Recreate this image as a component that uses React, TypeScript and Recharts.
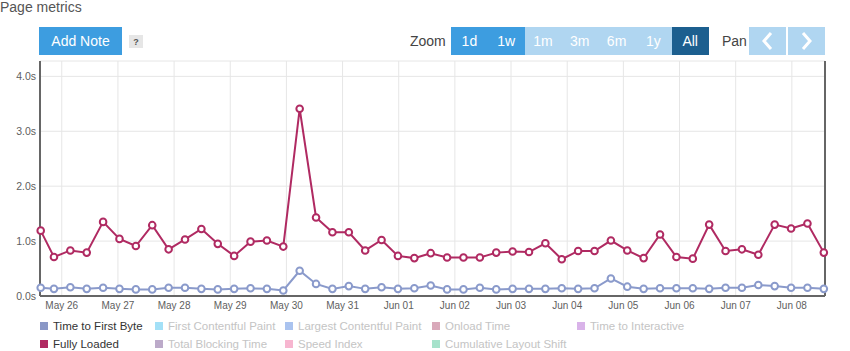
import { LineChart, Line, XAxis, YAxis, CartesianGrid } from "recharts";

// sample times (UTC, month-day hour:minute) and values in seconds
const times = [
  "05-25 15:00", "05-25 20:40", "05-26 03:40", "05-26 10:40", "05-26 17:40",
  "05-27 00:40", "05-27 07:40", "05-27 14:40", "05-27 21:40", "05-28 04:40",
  "05-28 11:40", "05-28 18:40", "05-29 01:40", "05-29 08:40", "05-29 15:40",
  "05-29 22:40", "05-30 05:40", "05-30 12:40", "05-30 19:40", "05-31 02:40",
  "05-31 09:40", "05-31 16:40", "05-31 23:40", "06-01 06:40", "06-01 13:40",
  "06-01 20:40", "06-02 03:40", "06-02 10:40", "06-02 17:40", "06-03 00:40",
  "06-03 07:40", "06-03 14:40", "06-03 21:40", "06-04 04:40", "06-04 11:40",
  "06-04 18:40", "06-05 01:40", "06-05 08:40", "06-05 15:40", "06-05 22:40",
  "06-06 05:40", "06-06 12:40", "06-06 19:40", "06-07 02:40", "06-07 09:40",
  "06-07 16:40", "06-07 23:40", "06-08 06:40", "06-08 13:40",
];
const fullyLoaded = [
  1.19, 0.71, 0.83, 0.79, 1.35, 1.04, 0.91, 1.29, 0.85, 1.03,
  1.22, 0.95, 0.73, 0.99, 1.01, 0.9, 3.41, 1.43, 1.16, 1.16,
  0.83, 1.02, 0.73, 0.69, 0.78, 0.7, 0.7, 0.7, 0.79, 0.81,
  0.8, 0.96, 0.67, 0.82, 0.82, 1.01, 0.83, 0.69, 1.12, 0.71,
  0.68, 1.3, 0.82, 0.85, 0.75, 1.3, 1.23, 1.32, 0.79,
];
const timeToFirstByte = [
  0.15, 0.13, 0.16, 0.13, 0.15, 0.13, 0.12, 0.12, 0.15, 0.15,
  0.13, 0.12, 0.13, 0.14, 0.13, 0.1, 0.46, 0.22, 0.13, 0.18,
  0.13, 0.16, 0.13, 0.14, 0.19, 0.12, 0.12, 0.15, 0.12, 0.13,
  0.13, 0.13, 0.14, 0.13, 0.14, 0.32, 0.17, 0.13, 0.14, 0.14,
  0.14, 0.13, 0.15, 0.15, 0.2, 0.18, 0.15, 0.15, 0.13,
];
const dayTicks = [
  "05-26", "05-27", "05-28", "05-29", "05-30", "05-31", "06-01",
  "06-02", "06-03", "06-04", "06-05", "06-06", "06-07", "06-08",
];
const leftTicks = [0, 1, 2, 3, 4];
const rightTicks = [0, 0.2, 0.4, 0.6, 0.8, 1.0];
const zoomButtons = ["1d", "1w", "1m", "3m", "6m", "1y", "All"];
const zoomStates = ["on", "on", "off", "off", "off", "off", "active"];
const legendRows = [
  [
    { name: "Time to First Byte", color: "#8a97c6", on: true },
    { name: "First Contentful Paint", color: "#a3e0f7", on: false },
    { name: "Largest Contentful Paint", color: "#aac3ef", on: false },
    { name: "Onload Time", color: "#d9a9ba", on: false },
    { name: "Time to Interactive", color: "#d9b3e9", on: false },
  ],
  [
    { name: "Fully Loaded", color: "#b02a62", on: true },
    { name: "Total Blocking Time", color: "#bcaac9", on: false },
    { name: "Speed Index", color: "#f7b6d0", on: false },
    { name: "Cumulative Layout Shift", color: "#a6e2cb", on: false },
  ],
];
const legendCols = [40, 155, 285, 432, 577];

const MONTHS = ["Jan", "Feb", "Mar", "Apr", "May", "Jun", "Jul", "Aug", "Sep", "Oct", "Nov", "Dec"];

function parseTime(s: string) {
  const [md, hm] = s.split(" ");
  const [m, d] = md.split("-").map(Number);
  const [h, mi] = (hm || "00:00").split(":").map(Number);
  return Date.UTC(2021, m - 1, d, h, mi);
}

const data = times.map((t, i) => ({
  t: parseTime(t),
  fullyLoaded: fullyLoaded[i],
  ttfb: timeToFirstByte[i],
}));

const PINK = "#b02a62";
const BLUE = "#8a9acb";
const FONT = "'Liberation Sans', Arial, sans-serif";

function fmtDay(v: number) {
  const d = new Date(v);
  return `${MONTHS[d.getUTCMonth()]} ${String(d.getUTCDate()).padStart(2, "0")}`;
}

function Chevron({ dir }: { dir: "left" | "right" }) {
  const pts = dir === "left" ? "12,3 5,11 12,19" : "5,3 12,11 5,19";
  return (
    <svg width="17" height="22">
      <polyline points={pts} fill="none" stroke="#fff" strokeWidth="3" />
    </svg>
  );
}

const btn = (bg: string, left: number, width: number): React.CSSProperties => ({
  position: "absolute",
  left,
  top: 27,
  width,
  height: 28,
  background: bg,
  color: "#fff",
  display: "flex",
  alignItems: "center",
  justifyContent: "center",
  fontSize: 14,
});

export default function App() {
  const zoomColor = (s: string) => (s === "on" ? "#3d9de0" : s === "active" ? "#1c5f8f" : "#b0d6f1");
  return (
    <div style={{ position: "absolute", left: 0, top: 0, width: 850, height: 351, fontFamily: FONT, background: "#fff" }}>
      <LineChart
        width={850}
        height={351}
        data={data}
        margin={{ top: 61, right: 0, bottom: 35, left: 0 }}
        style={{ position: "absolute", left: 0, top: 0 }}
      >
        <CartesianGrid stroke="#e6e6e6" />
        <XAxis
          dataKey="t"
          type="number"
          scale="time"
          domain={[parseTime("05-25 14:42"), parseTime("06-08 14:10")]}
          ticks={dayTicks.map((d) => parseTime(d))}
          tickFormatter={fmtDay}
          height={20}
          tickLine={false}
          tickSize={5}
          tickMargin={1}
          axisLine={{ stroke: "#666", strokeWidth: 2 }}
          tick={{ fill: "#606060", fontSize: 10, fontFamily: FONT }}
        />
        <XAxis
          xAxisId="top"
          dataKey="t"
          type="number"
          orientation="top"
          domain={[parseTime("05-25 14:42"), parseTime("06-08 14:10")]}
          height={0}
          tick={false}
          tickLine={false}
          axisLine={{ stroke: "#666", strokeWidth: 2 }}
        />
        <YAxis
          domain={[0, 4.28]}
          ticks={leftTicks}
          tickFormatter={(v: number) => `${v.toFixed(1)}s`}
          width={40}
          tickLine={false}
          tickSize={2}
          tickMargin={2}
          axisLine={{ stroke: "#666", strokeWidth: 2 }}
          tick={{ fill: "#606060", fontSize: 10.5, fontFamily: FONT }}
        />
        <YAxis
          yAxisId="right"
          orientation="right"
          domain={[0, 1]}
          ticks={rightTicks}
          tickFormatter={(v: number) => v.toFixed(1)}
          width={25}
          tickLine={false}
          tickSize={2}
          tickMargin={2}
          axisLine={{ stroke: "#666", strokeWidth: 2 }}
          tick={{ fill: "#606060", fontSize: 10.5, fontFamily: FONT }}
        />
        <Line
          type="linear"
          dataKey="ttfb"
          stroke={BLUE}
          strokeWidth={2}
          dot={{ r: 3.3, fill: "#fff", stroke: BLUE, strokeWidth: 2 }}
          activeDot={false}
          isAnimationActive={false}
        />
        <Line
          type="linear"
          dataKey="fullyLoaded"
          stroke={PINK}
          strokeWidth={2}
          dot={{ r: 3.3, fill: "#fff", stroke: PINK, strokeWidth: 2 }}
          activeDot={false}
          isAnimationActive={false}
        />
      </LineChart>

      <div style={{ position: "absolute", left: 0, top: 0, fontSize: 14, lineHeight: "14px", color: "#555" }}>
        Page metrics
      </div>
      <div style={btn("#3d9de0", 39, 83)}>Add Note</div>
      <div
        style={{
          position: "absolute", left: 129, top: 35, width: 14, height: 13, background: "#e6e6e6",
          color: "#555", fontSize: 9, fontWeight: "bold", display: "flex", alignItems: "center", justifyContent: "center",
        }}
      >
        ?
      </div>
      <div style={{ position: "absolute", left: 410, top: 33, fontSize: 14, color: "#444" }}>Zoom</div>
      {zoomButtons.map((b, i) => (
        <div key={b} style={btn(zoomColor(zoomStates[i]), 451 + i * 36.8, 36.8)}>
          {b}
        </div>
      ))}
      <div style={{ position: "absolute", left: 722, top: 33, fontSize: 14, color: "#444" }}>Pan</div>
      <div style={btn("#b0d6f1", 749, 37)}>
        <Chevron dir="left" />
      </div>
      <div style={btn("#b0d6f1", 788, 37)}>
        <Chevron dir="right" />
      </div>

      {legendRows.map((row, r) =>
        row.map((item, c) => (
          <div
            key={item.name}
            style={{
              position: "absolute", left: legendCols[c], top: 318 + r * 17.5, height: 16,
              display: "flex", alignItems: "center", fontSize: 11.5, color: item.on ? "#333" : "#c4c4c4",
              whiteSpace: "nowrap",
            }}
          >
            <span style={{ display: "inline-block", width: 8, height: 8, background: item.color, marginRight: 5 }} />
            {item.name}
          </div>
        ))
      )}
    </div>
  );
}
